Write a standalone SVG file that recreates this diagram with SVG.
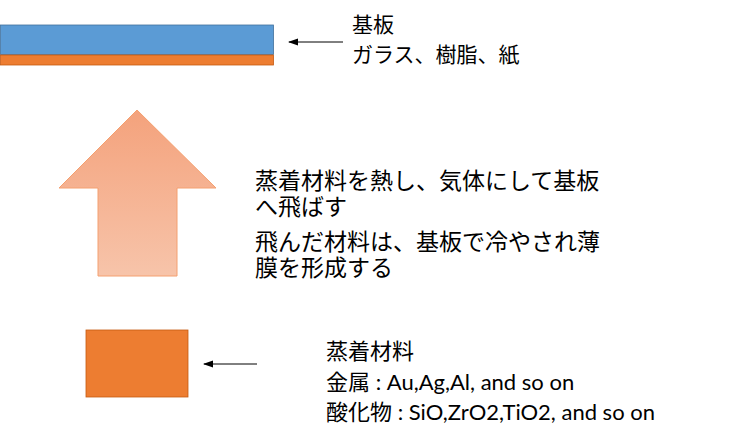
<svg xmlns="http://www.w3.org/2000/svg" width="740" height="443" viewBox="0 0 740 443">
<defs>
<linearGradient id="ag" x1="0" y1="0" x2="0" y2="1">
<stop offset="0" stop-color="#F4A27C"/>
<stop offset="1" stop-color="#F7C4AA"/>
</linearGradient>
<marker id="ah" markerWidth="10" markerHeight="8" refX="9" refY="4" orient="auto" markerUnits="userSpaceOnUse">
<path d="M0,0.5 L10,4 L0,7.5 Z" fill="#000"/>
</marker>
<style>
text{font-family:"Lato","Noto Sans CJK JP","Noto Sans",sans-serif;fill:#000}
.t{font-size:21px}
.b{font-size:22px}
.m{font-size:23px}
.ln{stroke:#000;stroke-width:1;fill:none}
</style>
</defs>
<rect width="740" height="443" fill="#fff"/>
<g id="substrate">
<rect x="0.5" y="25" width="273" height="29.5" fill="#5B9BD5" stroke="#41719C" stroke-width="0.8"/>
<rect x="0.5" y="55" width="273" height="10" fill="#ED7D31" stroke="#C55A11" stroke-width="0.8"/>
</g>
<g id="up-arrow">
<path d="M137,110 L216,188 L177,188 L177,276 L98,276 L98,188 L59,188 Z" fill="url(#ag)" stroke="#F4A070" stroke-width="1"/>
</g>
<g id="material">
<rect x="86" y="330" width="102" height="67" fill="#ED7D31" stroke="#C55A11" stroke-width="0.8"/>
</g>
<g id="connectors">
<line class="ln" x1="343" y1="42" x2="289" y2="42" marker-end="url(#ah)"/>
<line class="ln" x1="257" y1="364" x2="204" y2="364" marker-end="url(#ah)"/>
</g>
<g id="substrate-label">
<text class="t" x="352" y="32">基板</text>
<text class="t" x="352" y="62">ガラス、樹脂、紙</text>
</g>
<g id="process-label">
<text class="m" x="255" y="189">蒸着材料を熱し、気体にして基板</text>
<text class="m" x="255" y="215">へ飛ばす</text>
<text class="m" x="255" y="250">飛んだ材料は、基板で冷やされ薄</text>
<text class="m" x="255" y="276">膜を形成する</text>
</g>
<g id="material-label">
<text class="b" x="326" y="359">蒸着材料</text>
<text class="b" x="326" y="390">金属 : Au,Ag,Al, and so on</text>
<text class="b" x="326" y="420">酸化物 : SiO,ZrO2,TiO2, and so on</text>
</g>
</svg>
